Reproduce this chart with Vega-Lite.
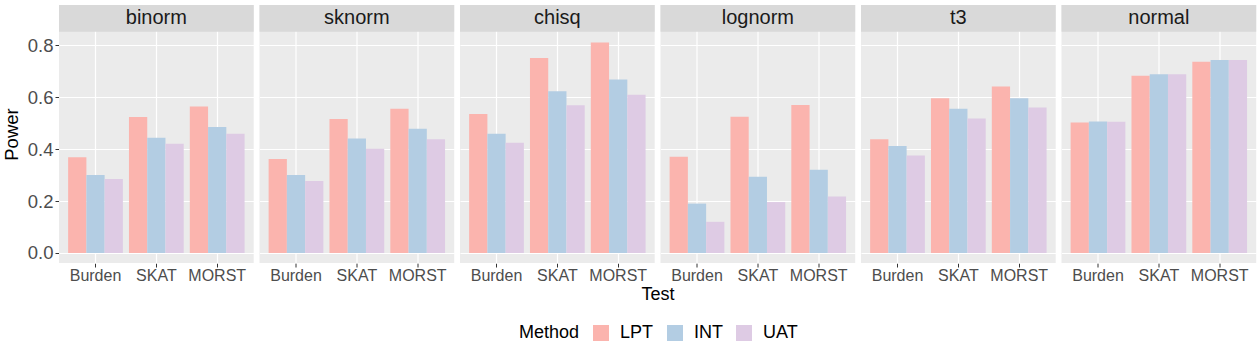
{
  "$schema": "https://vega.github.io/schema/vega-lite/v6.json",
  "padding": {"left": 2, "top": 5, "right": 5, "bottom": 5},
  "background": "white",
  "config": {"font": "Liberation Sans", "view": {"fill": "#EBEBEB", "stroke": null}},
  "data": {"values": [
    {"dist": "binorm", "test": "Burden", "method": "LPT", "power": 0.368},
    {"dist": "binorm", "test": "Burden", "method": "INT", "power": 0.300},
    {"dist": "binorm", "test": "Burden", "method": "UAT", "power": 0.285},
    {"dist": "binorm", "test": "SKAT", "method": "LPT", "power": 0.523},
    {"dist": "binorm", "test": "SKAT", "method": "INT", "power": 0.443},
    {"dist": "binorm", "test": "SKAT", "method": "UAT", "power": 0.420},
    {"dist": "binorm", "test": "MORST", "method": "LPT", "power": 0.564},
    {"dist": "binorm", "test": "MORST", "method": "INT", "power": 0.485},
    {"dist": "binorm", "test": "MORST", "method": "UAT", "power": 0.459},
    {"dist": "sknorm", "test": "Burden", "method": "LPT", "power": 0.362},
    {"dist": "sknorm", "test": "Burden", "method": "INT", "power": 0.300},
    {"dist": "sknorm", "test": "Burden", "method": "UAT", "power": 0.277},
    {"dist": "sknorm", "test": "SKAT", "method": "LPT", "power": 0.515},
    {"dist": "sknorm", "test": "SKAT", "method": "INT", "power": 0.440},
    {"dist": "sknorm", "test": "SKAT", "method": "UAT", "power": 0.401},
    {"dist": "sknorm", "test": "MORST", "method": "LPT", "power": 0.555},
    {"dist": "sknorm", "test": "MORST", "method": "INT", "power": 0.478},
    {"dist": "sknorm", "test": "MORST", "method": "UAT", "power": 0.438},
    {"dist": "chisq", "test": "Burden", "method": "LPT", "power": 0.535},
    {"dist": "chisq", "test": "Burden", "method": "INT", "power": 0.459},
    {"dist": "chisq", "test": "Burden", "method": "UAT", "power": 0.424},
    {"dist": "chisq", "test": "SKAT", "method": "LPT", "power": 0.750},
    {"dist": "chisq", "test": "SKAT", "method": "INT", "power": 0.622},
    {"dist": "chisq", "test": "SKAT", "method": "UAT", "power": 0.568},
    {"dist": "chisq", "test": "MORST", "method": "LPT", "power": 0.810},
    {"dist": "chisq", "test": "MORST", "method": "INT", "power": 0.667},
    {"dist": "chisq", "test": "MORST", "method": "UAT", "power": 0.609},
    {"dist": "lognorm", "test": "Burden", "method": "LPT", "power": 0.370},
    {"dist": "lognorm", "test": "Burden", "method": "INT", "power": 0.190},
    {"dist": "lognorm", "test": "Burden", "method": "UAT", "power": 0.120},
    {"dist": "lognorm", "test": "SKAT", "method": "LPT", "power": 0.524},
    {"dist": "lognorm", "test": "SKAT", "method": "INT", "power": 0.293},
    {"dist": "lognorm", "test": "SKAT", "method": "UAT", "power": 0.196},
    {"dist": "lognorm", "test": "MORST", "method": "LPT", "power": 0.569},
    {"dist": "lognorm", "test": "MORST", "method": "INT", "power": 0.320},
    {"dist": "lognorm", "test": "MORST", "method": "UAT", "power": 0.217},
    {"dist": "t3", "test": "Burden", "method": "LPT", "power": 0.438},
    {"dist": "t3", "test": "Burden", "method": "INT", "power": 0.412},
    {"dist": "t3", "test": "Burden", "method": "UAT", "power": 0.375},
    {"dist": "t3", "test": "SKAT", "method": "LPT", "power": 0.595},
    {"dist": "t3", "test": "SKAT", "method": "INT", "power": 0.555},
    {"dist": "t3", "test": "SKAT", "method": "UAT", "power": 0.517},
    {"dist": "t3", "test": "MORST", "method": "LPT", "power": 0.640},
    {"dist": "t3", "test": "MORST", "method": "INT", "power": 0.595},
    {"dist": "t3", "test": "MORST", "method": "UAT", "power": 0.560},
    {"dist": "normal", "test": "Burden", "method": "LPT", "power": 0.502},
    {"dist": "normal", "test": "Burden", "method": "INT", "power": 0.506},
    {"dist": "normal", "test": "Burden", "method": "UAT", "power": 0.505},
    {"dist": "normal", "test": "SKAT", "method": "LPT", "power": 0.682},
    {"dist": "normal", "test": "SKAT", "method": "INT", "power": 0.688},
    {"dist": "normal", "test": "SKAT", "method": "UAT", "power": 0.688},
    {"dist": "normal", "test": "MORST", "method": "LPT", "power": 0.736},
    {"dist": "normal", "test": "MORST", "method": "INT", "power": 0.742},
    {"dist": "normal", "test": "MORST", "method": "UAT", "power": 0.742}
  ]},
  "facet": {
    "column": {
      "field": "dist", "type": "nominal",
      "sort": ["binorm", "sknorm", "chisq", "lognorm", "t3", "normal"],
      "header": {"labels": false, "title": "Test", "titleOrient": "bottom", "titleFontSize": 18, "titleFontWeight": "normal", "titleColor": "black", "titlePadding": -7}
    }
  },
  "spacing": 5.5,
  "spec": {
    "width": 194.7,
    "height": 258,
    "layer": [
      {
        "mark": {"type": "bar"},
        "encoding": {
          "x": {"field": "test", "type": "nominal", "sort": ["Burden", "SKAT", "MORST"],
            "scale": {"type": "band", "paddingInner": 0.1, "paddingOuter": 0.15},
            "axis": {"title": null, "labelAngle": 0, "bandPosition": 0.5, "grid": true, "gridColor": "white", "gridWidth": 1.2, "tickColor": "#333333", "tickSize": 4, "domain": false, "labelFontSize": 16, "labelColor": "#4D4D4D", "labelPadding": 0}},
          "xOffset": {"field": "method", "type": "nominal", "sort": ["LPT", "INT", "UAT"], "scale": {"paddingInner": 0, "paddingOuter": 0}},
          "y": {"field": "power", "type": "quantitative",
            "scale": {"domain": [-0.0385, 0.954], "nice": false, "zero": false},
            "axis": {"values": [0, 0.1, 0.2, 0.3, 0.4, 0.5, 0.6, 0.7, 0.8],
              "labelExpr": "round(datum.value*10)%2==0 ? format(datum.value,'.1f') : ''",
              "gridColor": "white",
              "gridWidth": {"condition": {"test": "round(datum.value*10)%2==1", "value": 0.6}, "value": 1.2},
              "tickColor": {"condition": {"test": "round(datum.value*10)%2==1", "value": "transparent"}, "value": "#333333"},
              "tickSize": 4, "domain": false, "labelFontSize": 18.5, "labelColor": "#4D4D4D", "labelPadding": 2,
              "title": "Power", "titleFontSize": 18.5, "titleFontWeight": "normal", "titleColor": "black", "titlePadding": 6}},
          "y2": {"datum": 0},
          "color": {"field": "method", "type": "nominal", "sort": ["LPT", "INT", "UAT"],
            "scale": {"domain": ["LPT", "INT", "UAT"], "range": ["#FBB4AE", "#B3CDE3", "#DECBE4"]},
            "legend": {"orient": "none", "legendX": 460, "legendY": 319, "direction": "horizontal", "title": "Method", "titleOrient": "left", "titleFontSize": 18, "titleFontWeight": "normal", "titleColor": "black", "labelFontSize": 18, "labelColor": "black", "symbolType": "square", "symbolSize": 256, "symbolStrokeWidth": 0, "symbolOpacity": 1, "labelOffset": 10, "columnPadding": 12, "titlePadding": 12}}
        }
      },
      {
        "transform": [{"filter": "datum.test == 'Burden' && datum.method == 'LPT'"}],
        "mark": {"type": "rect", "color": "#D9D9D9"},
        "encoding": {"y": {"datum": 0.851}, "y2": {"datum": 0.954}}
      },
      {
        "transform": [{"filter": "datum.test == 'Burden' && datum.method == 'LPT'"}],
        "mark": {"type": "text", "fontSize": 20, "color": "#1A1A1A", "baseline": "middle", "align": "center"},
        "encoding": {"x": {"datum": "SKAT", "type": "nominal"}, "y": {"datum": 0.9025}, "text": {"field": "dist"}}
      }
    ]
  }
}
